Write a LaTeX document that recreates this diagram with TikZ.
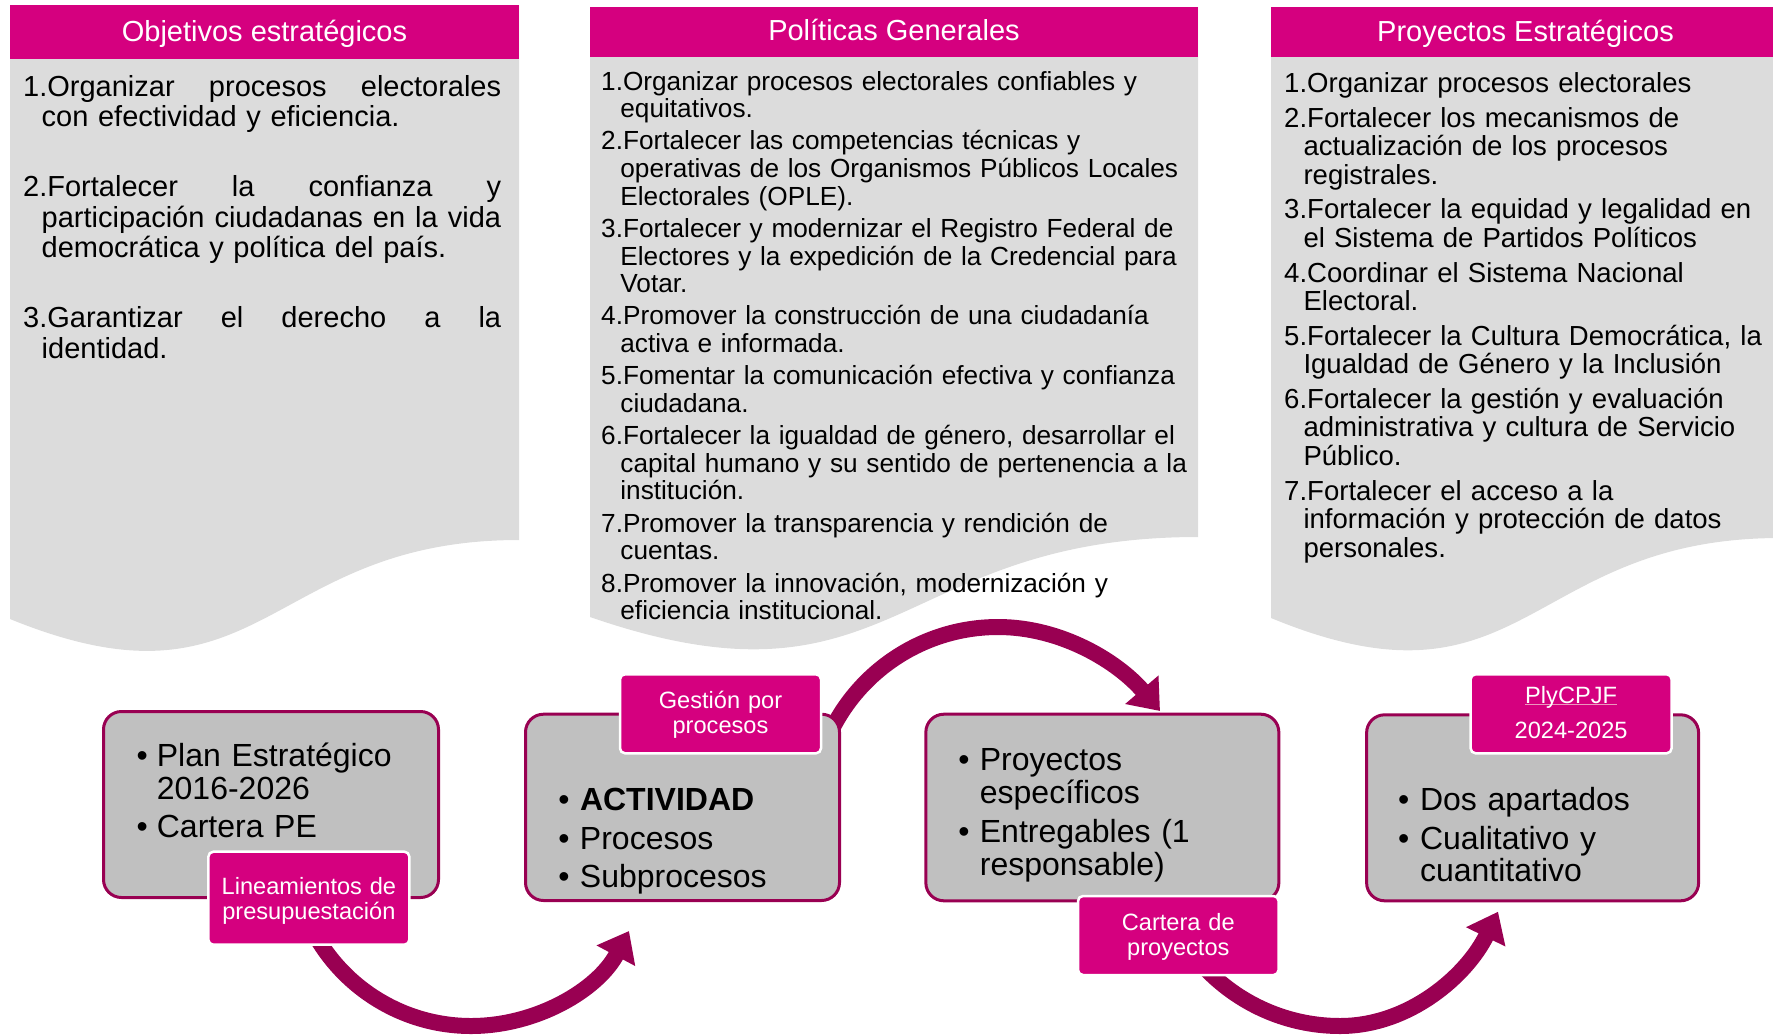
\documentclass[tikz,border=0pt]{standalone}
\usepackage{fontspec}
\setmainfont{Liberation Sans}
\usetikzlibrary{arrows.meta}
\definecolor{hdrmag}{RGB}{213,0,127}
\definecolor{panelgray}{RGB}{220,220,220}
\definecolor{boxgray}{RGB}{192,192,192}
\definecolor{darkmag}{RGB}{153,0,82}
\definecolor{ulpink}{RGB}{236,150,190}
\newcommand{\jline}[2]{\leavevmode\hbox to #1{#2}}
\begin{document}
\begin{tikzpicture}[x=1pt,y=-1pt,
  hdrbox/.style={fill=hdrmag, draw=none, text=white, inner sep=0pt,
    font=\fontsize{29}{34}\selectfont, text height=22pt, text depth=4pt},
  ptext/.style={anchor=base west, inner sep=0pt, align=left, text=black},
  mainbox/.style={fill=boxgray, draw=darkmag, line width=3pt, rounded corners=18pt, inner sep=0pt},
  lblbox/.style={fill=hdrmag, draw=white, line width=2.5pt, rounded corners=5pt, inner sep=0pt},
  btext/.style={anchor=base west, inner sep=0pt, align=left, text width=330pt, text=black},
  ltext/.style={anchor=base, inner sep=0pt, align=center, text width=200pt, text=white,
    font=\fontsize{23.6}{25.2}\selectfont},
  flowarrow/.style={draw=darkmag, line width=16pt, -{Triangle[width=42pt,length=28pt]}}
]
\useasboundingbox (0,0) rectangle (1773,1034);
\clip (0,0) rectangle (1773,1034);

% ---------- panel bodies (wavy bottoms) ----------
\fill[panelgray] (10,5) -- (519,5) -- (519,540) .. controls (264.5,540) and (264.5,722.8) .. (10,619) -- cycle;
\fill[panelgray] (590,7) -- (1198,7) -- (1198,537) .. controls (894,537) and (894,722.1) .. (590,617) -- cycle;
\fill[panelgray] (1271,7) -- (1780,7) -- (1780,538) .. controls (1525.5,538) and (1525.5,723.1) .. (1271,618) -- cycle;

% ---------- headers ----------
\node[hdrbox, minimum width=509pt, minimum height=54.3pt] (hdr1) at (264.5,32.2) {Objetivos estratégicos};
\node[hdrbox, minimum width=608pt, minimum height=49.7pt] (hdr2) at (894,31.85) {Políticas Generales};
\node[hdrbox, minimum width=509pt, minimum height=50.3pt] (hdr3) at (1525.5,32.15) {Proyectos Estratégicos};

% ---------- panel texts ----------
\node[ptext, text width=482pt, font=\fontsize{29}{30.6}\selectfont] (objtext) at (23,96.1) {%
\jline{478pt}{1.Organizar\hfill procesos\hfill electorales}\\
\hspace*{18.5pt}con efectividad y eficiencia.\\[39.4pt]
\jline{478pt}{2.Fortalecer\hfill la\hfill confianza\hfill y}\\
\hspace*{18.5pt}\jline{459.5pt}{participación\hfill ciudadanas\hfill en\hfill la\hfill vida}\\
\hspace*{18.5pt}democrática y política del país.\\[39.4pt]
\jline{478pt}{3.Garantizar\hfill el\hfill derecho\hfill a\hfill la}\\
\hspace*{18.5pt}identidad.};

\node[ptext, text width=640pt, font=\fontsize{26.2}{27.6}\selectfont] (poltext) at (601,90) {%
1.Organizar procesos electorales confiables y\\
\hspace*{19.2pt}equitativos.\\[4.7pt]
2.Fortalecer las competencias técnicas y\\
\hspace*{19.2pt}operativas de los Organismos Públicos Locales\\
\hspace*{19.2pt}Electorales (OPLE).\\[4.7pt]
3.Fortalecer y modernizar el Registro Federal de\\
\hspace*{19.2pt}Electores y la expedición de la Credencial para\\
\hspace*{19.2pt}Votar.\\[4.7pt]
4.Promover la construcción de una ciudadanía\\
\hspace*{19.2pt}activa e informada.\\[4.7pt]
5.Fomentar la comunicación efectiva y confianza\\
\hspace*{19.2pt}ciudadana.\\[4.7pt]
6.Fortalecer la igualdad de género, desarrollar el\\
\hspace*{19.2pt}capital humano y su sentido de pertenencia a la\\
\hspace*{19.2pt}institución.\\[4.7pt]
7.Promover la transparencia y rendición de\\
\hspace*{19.2pt}cuentas.\\[4.7pt]
8.Promover la innovación, modernización y\\
\hspace*{19.2pt}eficiencia institucional.};

\node[ptext, text width=540pt, font=\fontsize{27.55}{28.66}\selectfont] (proytext) at (1284,92.7) {%
1.Organizar procesos electorales\\[5.8pt]
2.Fortalecer los mecanismos de\\
\hspace*{19.3pt}actualización de los procesos\\
\hspace*{19.3pt}registrales.\\[5.8pt]
3.Fortalecer la equidad y legalidad en\\
\hspace*{19.3pt}el Sistema de Partidos Políticos\\[5.8pt]
4.Coordinar el Sistema Nacional\\
\hspace*{19.3pt}Electoral.\\[5.8pt]
5.Fortalecer la Cultura Democrática, la\\
\hspace*{19.3pt}Igualdad de Género y la Inclusión\\[5.8pt]
6.Fortalecer la gestión y evaluación\\
\hspace*{19.3pt}administrativa y cultura de Servicio\\
\hspace*{19.3pt}Público.\\[5.8pt]
7.Fortalecer el acceso a la\\
\hspace*{19.3pt}información y protección de datos\\
\hspace*{19.3pt}personales.};

% ---------- curved arrows (drawn below boxes and labels) ----------
\coordinate (a1s) at (313,931);
\coordinate (a1m) at (471,1026);
\coordinate (a1e) at (629,931);
\coordinate (a2s) at (823.2,749.4);
\coordinate (a2m) at (998,627);
\coordinate (a2e) at (1160,711);
\coordinate (a3s) at (1197.5,959.6);
\coordinate (a3m) at (1340,1026);
\coordinate (a3e) at (1498,911.7);

\draw[flowarrow] (a1s) .. controls (344.1,989.4) and (404.8,1026) .. (a1m)
  .. controls (537.2,1026) and (597.9,989.4) .. (a1e);
\draw[flowarrow] (a2s) .. controls (849.9,675.9) and (919.8,627) .. (a2m)
  .. controls (1062.1,627) and (1118.4,662.4) .. (a2e);
\draw[flowarrow] (a3s) .. controls (1232.9,1001.7) and (1285,1026) .. (a3m)
  .. controls (1410,1026) and (1467.2,974.7) .. (a3e);

% ---------- main boxes ----------
\node[mainbox, minimum width=335pt, minimum height=186pt] (boxA) at (271,804.5) {};
\node[mainbox, minimum width=314pt, minimum height=186.3pt] (boxB) at (682.5,807.35) {};
\node[mainbox, minimum width=353pt, minimum height=186.6pt] (boxC) at (1102.35,807.5) {};
\node[mainbox, minimum width=332pt, minimum height=186pt] (boxD) at (1532.6,807.8) {};

\node[btext, font=\fontsize{32}{32.3}\selectfont] (boxAtext) at (136.3,766.7) {%
\makebox[20.4pt][l]{•}Plan Estratégico\\
\hspace*{20.4pt}2016-2026\\[6pt]
\makebox[20.4pt][l]{•}Cartera PE};

\node[btext, font=\fontsize{32}{32.3}\selectfont] (boxBtext) at (558.2,810.4) {%
\makebox[21.6pt][l]{•}\textbf{ACTIVIDAD}\\[6.4pt]
\makebox[21.6pt][l]{•}Procesos\\[6.4pt]
\makebox[21.6pt][l]{•}Subprocesos};

\node[btext, font=\fontsize{32}{32.5}\selectfont] (boxCtext) at (958.2,770.6) {%
\makebox[21.5pt][l]{•}Proyectos\\
\hspace*{21.5pt}específicos\\[7pt]
\makebox[21.5pt][l]{•}Entregables (1\\
\hspace*{21.5pt}responsable)};

\node[btext, font=\fontsize{32}{32.5}\selectfont] (boxDtext) at (1397.9,810.6) {%
\makebox[22pt][l]{•}Dos apartados\\[5.9pt]
\makebox[22pt][l]{•}Cualitativo y\\
\hspace*{22pt}cuantitativo};

% ---------- labels ----------
\node[lblbox, minimum width=201pt, minimum height=93pt] (lblA) at (308.85,898.2) {};
\node[lblbox, minimum width=201pt, minimum height=79pt] (lblB) at (720.5,713.8) {};
\node[lblbox, minimum width=200.6pt, minimum height=79pt] (lblC) at (1178.3,935.5) {};
\node[lblbox, minimum width=201pt, minimum height=79pt] (lblD) at (1571.1,713.8) {};

\node[ltext] (lblAtext) at (308.9,894) {Lineamientos de\\presupuestación};
\node[ltext] (lblBtext) at (720.5,708) {Gestión por\\procesos};
\node[ltext] (lblCtext) at (1178.3,930) {Cartera de\\proyectos};
\node[ltext] (lblDtext) at (1571.1,703.8) {\makebox[0pt][l]{\color{ulpink}\rule[-1pt]{92pt}{1pt}}PlyCPJF\\[9.4pt]2024-2025};

\end{tikzpicture}
\end{document}
